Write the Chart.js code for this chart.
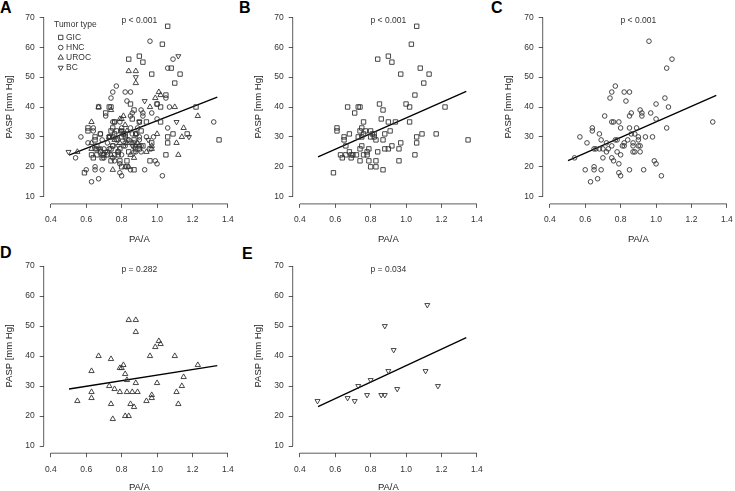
<!DOCTYPE html>
<html>
<head>
<meta charset="utf-8">
<script src="https://cdn.jsdelivr.net/npm/chart.js@4.4.1/dist/chart.umd.min.js"></script>
<style>
  html, body { margin: 0; padding: 0; background: #fff; overflow: hidden; }
  body { width: 735px; height: 491px; position: relative; font-family: "Liberation Sans", Arial, sans-serif; }
  canvas { position: absolute; }
  .letter { position: absolute; font-weight: bold; font-size: 16px; line-height: 16px; color: #000; }
</style>
</head>
<body>
<div class="letter" style="left:0px;top:0px">A</div>
<div class="letter" style="left:239px;top:0px">B</div>
<div class="letter" style="left:491px;top:0px">C</div>
<div class="letter" style="left:0px;top:245px">D</div>
<div class="letter" style="left:242px;top:246px">E</div>

<canvas id="chartA" width="241" height="250" style="left:0px;top:0px"></canvas>
<canvas id="chartB" width="241" height="250" style="left:249px;top:0px"></canvas>
<canvas id="chartC" width="241" height="250" style="left:499px;top:0px"></canvas>
<canvas id="chartD" width="241" height="252" style="left:0px;top:245px"></canvas>
<canvas id="chartE" width="241" height="252" style="left:249px;top:245px"></canvas>

<script>
// Eixos
const xTicks = [0.4, 0.6, 0.8, 1.0, 1.2, 1.4];
const yTicks = [10, 20, 30, 40, 50, 60, 70];
const tumorTypes = ["GIC", "HNC", "UROC", "BC"];

// GIC (painel B)
const gicX = [0.59, 0.61, 0.61, 0.63, 0.64, 0.65, 0.65, 0.66, 0.66, 0.67,
              0.68, 0.68, 0.69, 0.69, 0.70, 0.71, 0.72, 0.73, 0.73, 0.74,
              0.74, 0.74, 0.74, 0.75, 0.75, 0.75, 0.76, 0.76, 0.76, 0.77,
              0.78, 0.78, 0.79, 0.79, 0.80, 0.80, 0.80, 0.81, 0.82, 0.82,
              0.83, 0.83, 0.83, 0.84, 0.84, 0.85, 0.86, 0.87, 0.87, 0.87,
              0.88, 0.88, 0.90, 0.90, 0.90, 0.91, 0.92, 0.92, 0.94, 0.96,
              0.96, 0.97, 0.97, 1.00, 1.02, 1.02, 1.03, 1.05, 1.05, 1.06,
              1.06, 1.06, 1.08, 1.09, 1.10, 1.13, 1.17, 1.22, 1.35];
const gicY = [18, 33, 32, 24, 23, 29, 30, 27, 24, 40,
              31, 25, 23, 24, 24, 38, 24, 40, 30, 40,
              32, 26, 22, 27, 30, 33, 35, 31, 24, 32,
              25, 24, 26, 22, 20, 30, 32, 31, 30, 31,
              22, 20, 29, 25, 56, 41, 36, 39, 29, 19,
              26, 31, 57, 26, 35, 32, 55, 27, 35, 26,
              22, 51, 28, 41, 40, 35, 61, 44, 24, 67,
              30, 28, 53, 31, 48, 51, 31, 40, 29];

// HNC (painel C)
const hncX = [0.54, 0.57, 0.60, 0.61, 0.63, 0.64, 0.64, 0.65, 0.65, 0.65,
              0.66, 0.67, 0.68, 0.68, 0.69, 0.69, 0.70, 0.70, 0.71, 0.72,
              0.72, 0.73, 0.74, 0.75, 0.75, 0.75, 0.75, 0.76, 0.76, 0.77,
              0.77, 0.78, 0.78, 0.79, 0.79, 0.79, 0.80, 0.80, 0.80, 0.81,
              0.82, 0.82, 0.82, 0.83, 0.84, 0.85, 0.85, 0.85, 0.85, 0.86,
              0.86, 0.87, 0.87, 0.87, 0.88, 0.88, 0.89, 0.90, 0.90, 0.90,
              0.91, 0.91, 0.91, 0.92, 0.92, 0.93, 0.94, 0.96, 0.97, 0.98,
              0.99, 1.00, 1.00, 1.00, 1.03, 1.05, 1.06, 1.06, 1.07, 1.09,
              1.32];
const hncY = [23, 30, 19, 28, 15, 33, 32, 20, 19, 26,
              26, 16, 26, 31, 29, 19, 26, 23, 37, 25,
              28, 26, 43, 45, 35, 23, 27, 35, 22, 47,
              29, 29, 25, 35, 21, 18, 24, 17, 33, 27,
              45, 27, 28, 42, 29, 45, 37, 33, 19, 38,
              31, 25, 27, 28, 25, 31, 33, 27, 29, 30,
              39, 27, 25, 38, 37, 19, 30, 62, 38, 30,
              22, 21, 41, 36, 17, 43, 53, 33, 40, 56,
              35];

// UROC (painel D)
const urocX = [0.55, 0.63, 0.63, 0.63, 0.67, 0.73, 0.74, 0.74, 0.75, 0.76,
               0.79, 0.79, 0.80, 0.81, 0.82, 0.82, 0.83, 0.83, 0.84, 0.84,
               0.85, 0.86, 0.87, 0.88, 0.88, 0.88, 0.89, 0.94, 0.96, 0.97,
               0.97, 0.99, 1.00, 1.01, 1.02, 1.10, 1.11, 1.12, 1.14, 1.15,
               1.23];
const urocY = [25, 35, 28, 26, 40, 30, 39, 24, 19, 29,
               28, 36, 36, 37, 34, 20, 32, 28, 52, 20,
               24, 28, 23, 52, 31, 48, 28, 25, 40, 27,
               26, 43, 31, 45, 44, 40, 28, 24, 30, 33,
               37];

// BC (painel E)
const bcX = [0.50, 0.67, 0.71, 0.73, 0.78, 0.80, 0.86, 0.88, 0.88, 0.90, 0.93, 0.95, 1.11, 1.12, 1.18];
const bcY = [25, 26, 25, 30, 27, 32, 27, 50, 27, 35, 42, 29, 35, 57, 30];

// Retas de regressão (extremos)
const fitX = [0.503, 1.34];
const fitA = [23.9, 43.3];
const fitB = [23.3, 45.2];
const fitC = [22.1, 43.9];
const fitD = [29.0, 36.8];
const fitE = [23.1, 46.1];

const pValues = ["p < 0.001", "p < 0.001", "p < 0.001", "p = 0.282", "p = 0.034"];

const FONT = "'Liberation Sans', Arial, Helvetica, sans-serif";
const INK = "#333";

// Estilo dos marcadores por tipo de tumor
const markers =
{
  GIC:  { pointStyle: "rect",     rotation: 0,   radius: 3.1 },
  HNC:  { pointStyle: "circle",   rotation: 0,   radius: 2.3 },
  UROC: { pointStyle: "triangle", rotation: 0,   radius: 3.1 },
  BC:   { pointStyle: "triangle", rotation: 180, radius: 2.9 }
};

const toXY = (xs, ys) => xs.map((x, i) => ({ x: x, y: ys[i] }));

function pointSet(type, xs, ys)
{
  const m = markers[type];
  return {
    label: type,
    data: toXY(xs, ys),
    pointStyle: m.pointStyle,
    pointRotation: m.rotation,
    pointRadius: m.radius,
    pointBorderWidth: 0.9,
    pointBorderColor: INK,
    pointBackgroundColor: "rgba(0,0,0,0)",
    showLine: false
  };
}

function fitSet(fitY)
{
  return {
    label: "fit",
    data: toXY(fitX, fitY),
    showLine: true,
    borderColor: "#000",
    borderWidth: 1.3,
    pointRadius: 0
  };
}

// Eixos no estilo do R, legenda e valor de p
const rStyle =
{
  id: "rStyle",
  afterDraw(chart, args, opts)
  {
    const { ctx, chartArea, scales: { x, y } } = chart;
    ctx.save();
    ctx.strokeStyle = INK;
    ctx.lineWidth = 0.8;
    ctx.beginPath();
    ctx.moveTo(x.getPixelForValue(xTicks[0]), chartArea.bottom);
    ctx.lineTo(x.getPixelForValue(xTicks[xTicks.length - 1]), chartArea.bottom);
    ctx.moveTo(chartArea.left, y.getPixelForValue(yTicks[0]));
    ctx.lineTo(chartArea.left, y.getPixelForValue(yTicks[yTicks.length - 1]));
    ctx.stroke();

    ctx.fillStyle = INK;
    ctx.font = "8.5px " + FONT;
    ctx.textAlign = "center";
    ctx.textBaseline = "middle";
    ctx.fillText(opts.pText, x.getPixelForValue(0.9), y.getPixelForValue(68.9));

    if (opts.legend)
    {
      const lx = chartArea.left;
      const ly = chartArea.top;
      ctx.textAlign = "left";
      ctx.fillText("Tumor type", lx + 10.3, ly + 15);
      tumorTypes.forEach((type, i) =>
      {
        const m = markers[type];
        const cy = ly + 27.3 + i * 10.1;
        ctx.fillStyle = INK;
        ctx.fillText(type, lx + 22.3, cy);
        if (Chart.helpers && Chart.helpers.drawPoint)
        {
          ctx.fillStyle = "rgba(0,0,0,0)";
          ctx.lineWidth = 0.9;
          Chart.helpers.drawPoint(ctx, { pointStyle: m.pointStyle, rotation: m.rotation, radius: m.radius, borderWidth: 0.9 }, lx + 17, cy);
        }
      });
    }
    ctx.restore();
  }
};

function makePanel(id, datasets, pText, legend, row)
{
  const H = row === 1 ? 250 : 252;
  const top = row === 1 ? 10.0 : 13.8;
  const bottom = row === 1 ? 203.9 : 208.2;
  const xTitlePad = row === 1 ? 5.3 : 4.0;

  new Chart(document.getElementById(id),
  {
    type: "scatter",
    data: { datasets: datasets },
    options:
    {
      responsive: false,
      animation: false,
      layout: { padding: { left: 0, top: top, right: 1.24, bottom: 0 } },
      plugins:
      {
        legend: { display: false },
        tooltip: { enabled: false },
        rStyle: { pText: pText, legend: legend }
      },
      scales:
      {
        x:
        {
          type: "linear",
          min: 0.36,
          max: 1.44,
          afterBuildTicks: s => { s.ticks = xTicks.map(v => ({ value: v })); },
          afterFit: s => { s.height = H - bottom; },
          ticks: { callback: v => Number(v).toFixed(1), font: { size: 8.5, family: FONT }, color: INK, padding: 7, maxRotation: 0, autoSkip: false },
          grid: { drawOnChartArea: false, drawTicks: true, tickLength: 4, color: INK, lineWidth: 0.8 },
          border: { display: false },
          title: { display: true, text: "PA/A", font: { size: 9.5, family: FONT }, color: "#222", padding: { top: 0, bottom: xTitlePad } }
        },
        y:
        {
          type: "linear",
          min: 7.6,
          max: 72.4,
          afterBuildTicks: s => { s.ticks = yTicks.map(v => ({ value: v })); },
          afterFit: s => { s.width = 43.7; },
          ticks: { font: { size: 8.5, family: FONT }, color: INK, padding: 5, autoSkip: false },
          grid: { drawOnChartArea: false, drawTicks: true, tickLength: 4, color: INK, lineWidth: 0.8 },
          border: { display: false },
          title: { display: true, text: "PASP [mm Hg]", font: { size: 9.5, family: FONT }, color: "#222", padding: { top: 3.3, bottom: 0 } }
        }
      }
    },
    plugins: [rStyle]
  });
}

makePanel("chartA",
  [pointSet("GIC", gicX, gicY), pointSet("HNC", hncX, hncY), pointSet("UROC", urocX, urocY), pointSet("BC", bcX, bcY), fitSet(fitA)],
  pValues[0], true, 1);
makePanel("chartB", [pointSet("GIC", gicX, gicY), fitSet(fitB)], pValues[1], false, 1);
makePanel("chartC", [pointSet("HNC", hncX, hncY), fitSet(fitC)], pValues[2], false, 1);
makePanel("chartD", [pointSet("UROC", urocX, urocY), fitSet(fitD)], pValues[3], false, 2);
makePanel("chartE", [pointSet("BC", bcX, bcY), fitSet(fitE)], pValues[4], false, 2);
</script>
</body>
</html>
